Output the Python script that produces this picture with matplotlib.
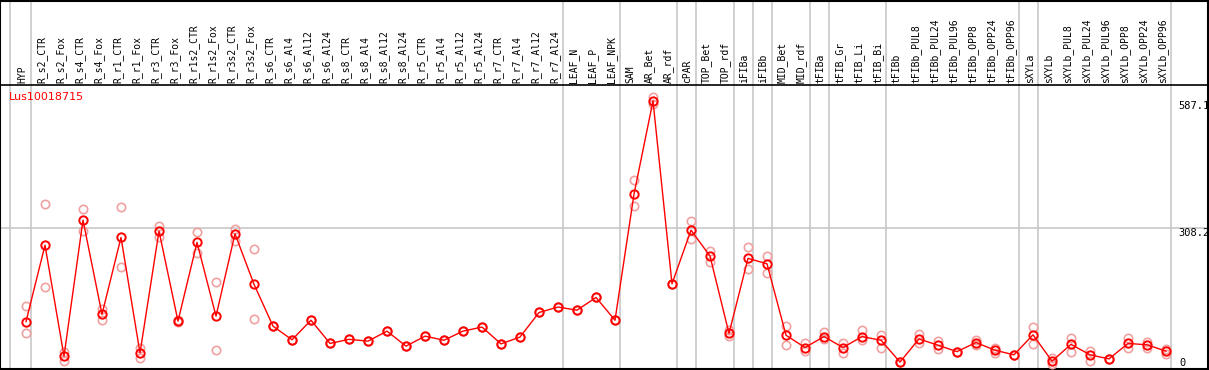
import matplotlib
matplotlib.use("Agg")
import matplotlib.pyplot as plt
import numpy as np

gene = "Lus10018715"

labels = ["HYP", "R_s2_CTR", "R_s2_Fox", "R_s4_CTR", "R_s4_Fox", "R_r1_CTR", "R_r1_Fox",
          "R_r3_CTR", "R_r3_Fox", "R_r1s2_CTR", "R_r1s2_Fox", "R_r3s2_CTR", "R_r3s2_Fox",
          "R_s6_CTR", "R_s6_Al4", "R_s6_Al12", "R_s6_Al24", "R_s8_CTR", "R_s8_Al4",
          "R_s8_Al12", "R_s8_Al24", "R_r5_CTR", "R_r5_Al4", "R_r5_Al12", "R_r5_Al24",
          "R_r7_CTR", "R_r7_Al4", "R_r7_Al12", "R_r7_Al24", "LEAF_N", "LEAF_P", "LEAF_NPK",
          "SAM", "AR_Bet", "AR_rdf", "cPAR", "TOP_Bet", "TOP_rdf", "iFIBa", "iFIBb",
          "MID_Bet", "MID_rdf", "tFIBa", "tFIB_Gr", "tFIB_Li", "tFIB_Bi", "tFIBb",
          "tFIBb_PUL8", "tFIBb_PUL24", "tFIBb_PUL96", "tFIBb_OPP8", "tFIBb_OPP24",
          "tFIBb_OPP96", "sXYLa", "sXYLb", "sXYLb_PUL8", "sXYLb_PUL24", "sXYLb_PUL96",
          "sXYLb_OPP8", "sXYLb_OPP24", "sXYLb_OPP96"]

# mean expression
mean = [102, 270, 26, 325, 118, 287, 33, 301, 103, 276, 114, 295, 184,
        92, 62, 105, 54, 63, 59, 81, 48, 70, 61, 81, 90, 53, 68, 122, 134,
        127, 155, 105, 382, 587.1, 185, 303, 246, 76, 241, 229, 72, 45,
        69, 45, 69, 61, 13, 64, 50, 36, 56, 39, 29, 73, 15, 52, 29, 20, 54, 51, 37]

# replicates (upper / lower)
rep_hi = [136, 360, 36, 349, 129, 353, 43, 312, 105, 298, 188, 306, 261,
          92, 62, 105, 54, 63, 59, 81, 48, 70, 61, 81, 90, 53, 68, 122, 134,
          127, 155, 105, 413, 595, 185, 323, 258, 83, 265, 246, 92, 55,
          80, 56, 83, 73, 13, 74, 60, 36, 61, 45, 29, 90, 21, 66, 38, 20, 66, 58, 41]
rep_lo = [76, 177, 15, 302, 105, 221, 21, 289, 101, 253, 39, 280, 107,
          92, 62, 105, 54, 63, 59, 81, 48, 70, 61, 81, 90, 53, 68, 122, 134,
          127, 155, 105, 356, 580, 185, 283, 234, 70, 217, 208, 50, 38,
          63, 34, 62, 45, 13, 56, 42, 36, 51, 34, 29, 52, 8, 36, 15, 20, 43, 45, 31]

# group separators (after these columns)
sep_after = [0, 28, 31, 34, 35, 37, 38, 39, 41, 42, 45, 52, 53, 60]

W, H = 1209, 370
x0, dx = 26, 19          # pixel of first column, column spacing
ybase, yscale = 368, 0.455  # pixel of value 0, pixels per unit

fig = plt.figure(figsize=(W / 100, H / 100), dpi=100)
ax = fig.add_axes([0, 0, 1, 1])
ax.set_xlim(-x0 / dx, (W - x0) / dx)
ax.set_ylim(-(H - ybase) / yscale, ybase / yscale)
ax.axis("off")

def px(p):
    return (p - x0) / dx

def py(p):
    return (ybase - p) / yscale

x = np.arange(len(labels))

# grid / separators
ax.axhline(308.2, color="#c8c8c8", lw=1.2, zorder=0)
ax.axvline(px(10), color="#c8c8c8", lw=1.2, zorder=0)
for k in sep_after:
    ax.axvline(k + 0.25, color="#c8c8c8", lw=1.2, zorder=0)

# frame
ax.axhline(py(85), color="black", lw=1.2, zorder=1)
ax.axhline(py(368.5), color="black", lw=1.5, zorder=1)
ax.axhline(py(0.5), color="black", lw=1.5, zorder=1)
ax.axvline(px(0.5), color="black", lw=1.5, zorder=1)
ax.axvline(px(1208), color="black", lw=1.5, zorder=1)

# column labels
for k, lab in enumerate(labels):
    ax.text(k - 0.18, py(83), lab, rotation=90, ha="center", va="bottom",
            fontsize=7, family="DejaVu Sans Mono", color="black")

# data
ax.plot(x, rep_hi, "o", ms=6, mfc="none", mec="#f0a0a0", mew=1.2, zorder=2)
ax.plot(x, rep_lo, "o", ms=6, mfc="none", mec="#f0a0a0", mew=1.2, zorder=2)
ax.plot(x, mean, "-", color="red", lw=1, zorder=3)
ax.plot(x, mean, "o", ms=6, mfc="none", mec="red", mew=1.4, zorder=4)

ax.text(px(9), py(97), gene, color="red", fontsize=8, ha="left", va="center")

# value labels
for v, txt in [(max(mean), "587.1"), (308.2, "308.2")]:
    ax.text(px(1178), v, txt, fontsize=7.5, family="DejaVu Sans Mono",
            ha="left", va="top")
ax.text(px(1179), py(358), "0", fontsize=7.5, family="DejaVu Sans Mono",
        ha="left", va="top")

fig.savefig("out.png", dpi=100)
